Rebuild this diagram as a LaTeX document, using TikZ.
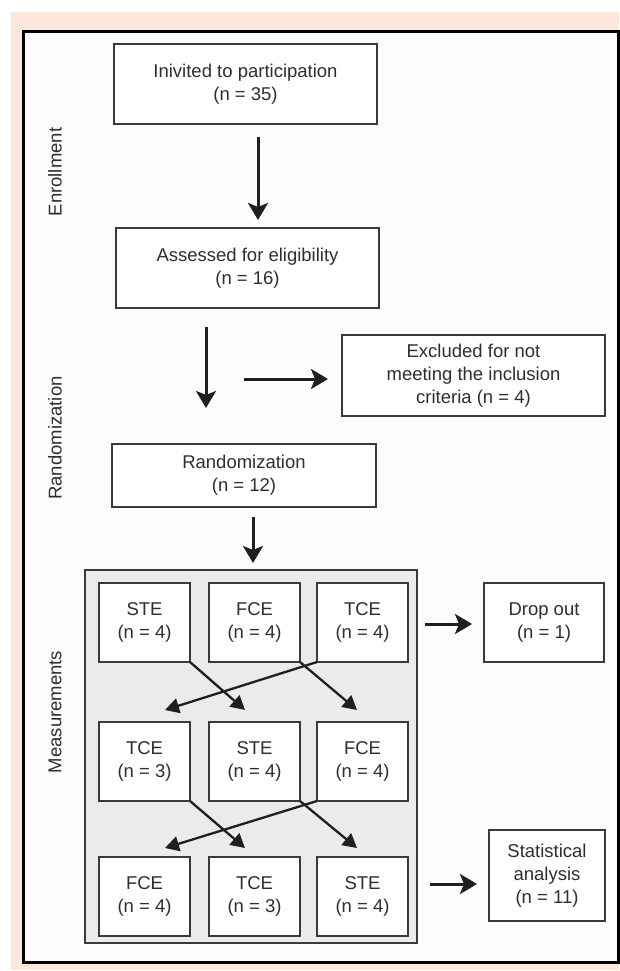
\documentclass[tikz,border=0pt]{standalone}
\usepackage{fontspec}
\setmainfont{Liberation Sans}
\usetikzlibrary{arrows.meta,calc}
\definecolor{beige}{HTML}{FBE8DA}
\definecolor{panelgray}{HTML}{EBEBEB}
\definecolor{txt}{HTML}{2E2E2E}
\definecolor{edge}{HTML}{3A3A3A}
\begin{document}
\begin{tikzpicture}[x=1pt,y=-1pt,
  every node/.style={font=\fontsize{18.5}{23}\selectfont, text=txt},
  box/.style={draw=edge, line width=1.4pt, fill=white, align=center, inner sep=0pt, outer sep=0pt},
  bigarrow/.style={line width=3pt, draw=black!88, -{Stealth[length=17pt,width=20pt,inset=4pt]}},
  crossarrow/.style={line width=2.3pt, draw=black!88, -{Triangle[length=14pt,width=15pt]}},
  sidelabel/.style={rotate=90, anchor=center}]
\useasboundingbox (0,0) rectangle (619,971);
% background
\fill[white] (0,0) rectangle (619,971);
\fill[beige] (11,12) rectangle (619,970);
\draw[black, line width=3pt, fill=white!99!black] (23,31.5) rectangle (618,962);

% top boxes
\node[box, minimum width=263pt, minimum height=80pt] (inv) at (245.5,84) {Inivited to participation\\(n = 35)};
\node[box, minimum width=263pt, minimum height=80pt] (ass) at (247.5,268) {Assessed for eligibility\\(n = 16)};
\node[box, minimum width=263pt, minimum height=81pt] (exc) at (473.5,375.5) {Excluded for not\\meeting the inclusion\\criteria (n = 4)};
\node[box, minimum width=264pt, minimum height=63pt] (ran) at (244,475.5) {Randomization\\(n = 12)};

% side labels
\node[sidelabel] (lenr) at (55,172) {Enrollment};
\node[sidelabel] (lran) at (55,438) {Randomization};
\node[sidelabel] (lmea) at (55,712) {Measurements};

% measurement panel
\node[draw=edge, line width=1.4pt, fill=panelgray, minimum width=332pt, minimum height=373pt, inner sep=0pt, outer sep=0pt] (panel) at (251,756.5) {};

\node[box, minimum width=91pt, minimum height=79pt] (c1r1) at (144.5,622.5) {STE\\(n = 4)};
\node[box, minimum width=91pt, minimum height=79pt] (c2r1) at (254.5,622.5) {FCE\\(n = 4)};
\node[box, minimum width=91pt, minimum height=79pt] (c3r1) at (362.5,622.5) {TCE\\(n = 4)};
\node[box, minimum width=91pt, minimum height=79pt] (c1r2) at (144.5,761.5) {TCE\\(n = 3)};
\node[box, minimum width=91pt, minimum height=79pt] (c2r2) at (254.5,761.5) {STE\\(n = 4)};
\node[box, minimum width=91pt, minimum height=79pt] (c3r2) at (362.5,761.5) {FCE\\(n = 4)};
\node[box, minimum width=91pt, minimum height=79pt] (c1r3) at (144.5,896.5) {FCE\\(n = 4)};
\node[box, minimum width=91pt, minimum height=79pt] (c2r3) at (254.5,896.5) {TCE\\(n = 3)};
\node[box, minimum width=91pt, minimum height=79pt] (c3r3) at (362.5,896.5) {STE\\(n = 4)};

\node[box, minimum width=120pt, minimum height=79pt] (drop) at (544,622.5) {Drop out\\(n = 1)};
\node[box, minimum width=116pt, minimum height=91pt] (stat) at (547,875.5) {Statistical\\analysis\\(n = 11)};

% main arrows
\draw[bigarrow] ([xshift=12.5pt,yshift=-13pt]inv.south) -- ([xshift=10.5pt,yshift=8pt]ass.north);
\draw[bigarrow] ([xshift=-41.5pt,yshift=-19pt]ass.south) -- ([xshift=-38pt,yshift=36pt]ran.north);
\draw[bigarrow] ([xshift=-98pt,yshift=-3.5pt]exc.west) -- ([xshift=-14pt,yshift=-3.5pt]exc.west);
\draw[bigarrow] ([xshift=9pt,yshift=-10pt]ran.south) -- ([xshift=2pt,yshift=7pt]panel.north);
\draw[bigarrow] ([xshift=17pt,yshift=-1.5pt]c3r1.east) -- ([xshift=-12pt,yshift=-1.5pt]drop.west);
\draw[bigarrow] ([xshift=22pt,yshift=12.5pt]c3r3.east) -- ([xshift=-12pt,yshift=-8.5pt]stat.west);

% crossing arrows
\draw[crossarrow] (c1r1.south east) -- ([xshift=-9.5pt,yshift=12pt]c2r2.north);
\draw[crossarrow] (c2r1.south east) -- ([xshift=-5.5pt,yshift=12pt]c3r2.north);
\draw[crossarrow] (c3r1.south west) -- ([xshift=20.5pt,yshift=12pt]c1r2.north);
\draw[crossarrow] (c1r2.south east) -- ([xshift=-9.5pt,yshift=9pt]c2r3.north);
\draw[crossarrow] (c2r2.south east) -- ([xshift=-5.5pt,yshift=9pt]c3r3.north);
\draw[crossarrow] (c3r2.south west) -- ([xshift=20.5pt,yshift=9pt]c1r3.north);
\end{tikzpicture}
\end{document}
